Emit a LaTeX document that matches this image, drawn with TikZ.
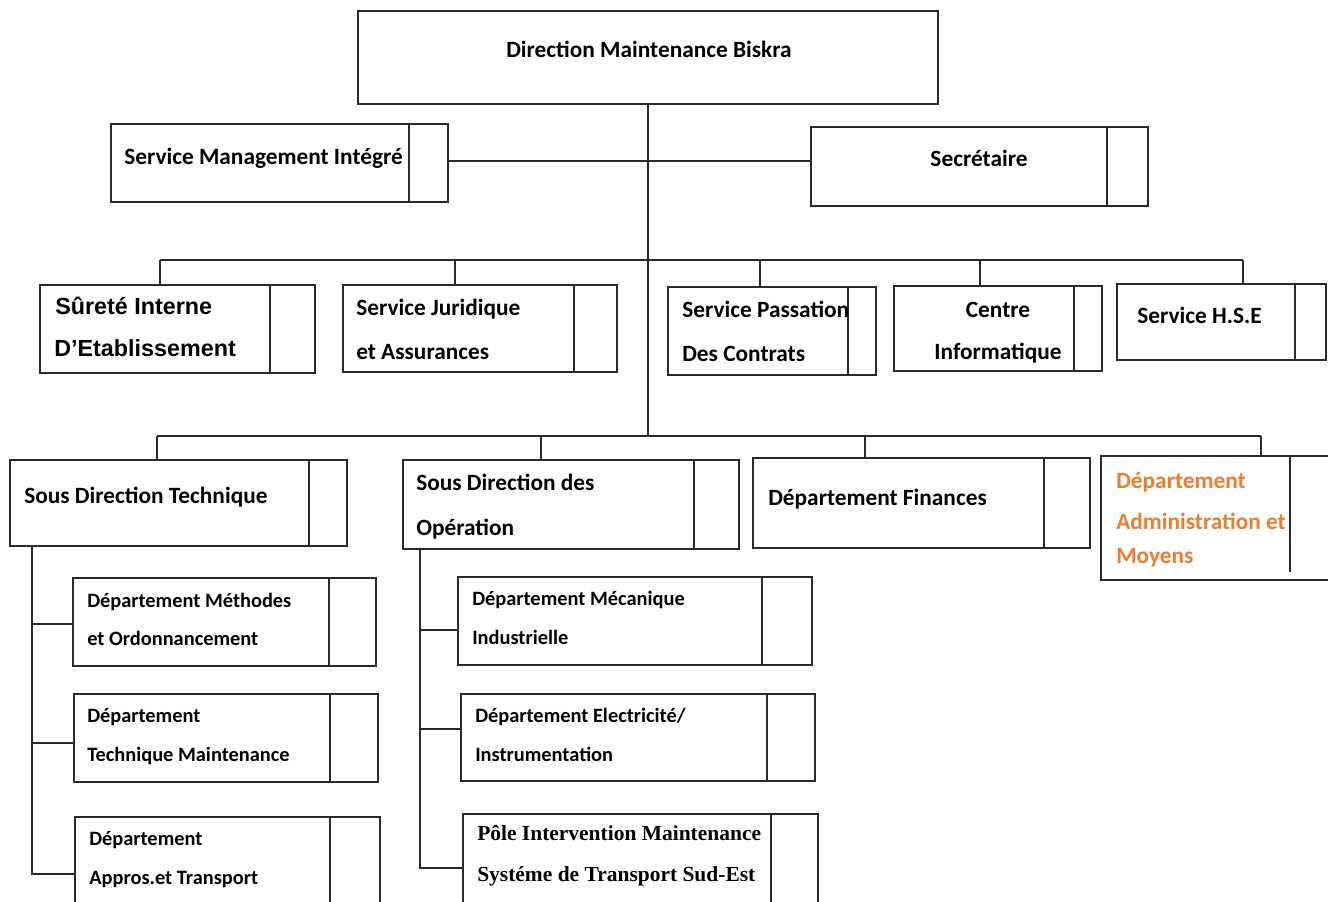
\documentclass[tikz,border=0pt]{standalone}
\usepackage{fontspec}
\setmainfont{Carlito}
\newfontfamily\arialfont{Liberation Sans}
\newfontfamily\cambriafont{Liberation Serif}
\usetikzlibrary{fit}
\definecolor{linec}{HTML}{2B2B2B}
\definecolor{orangetxt}{HTML}{ED7D31}

% box with a narrow column on its right: name, x1, y1, x2, y2, divider x
\newcommand\orgbox[6]{%
  \node[box, fit={(#2,#3) (#4,#5)}] (#1) {};
  \draw[divline] (#1.north -| #6,0) -- (#1.south -| #6,0);
}

\begin{document}
\begin{tikzpicture}[x=0.75pt,y=-0.75pt,
  box/.style={draw=linec, line width=1.3pt, inner sep=0pt, outer sep=0pt},
  divline/.style={draw=linec, line width=1.1pt},
  conn/.style={draw=linec, line width=1.1pt},
  txt/.style={inner sep=0pt, anchor=mid west, yshift=-3.5pt},
  big/.style={txt, font=\bfseries\fontsize{17.5}{21}\selectfont},
  small/.style={txt, font=\bfseries\fontsize{15.3}{18}\selectfont},
  serifsmall/.style={txt, font=\cambriafont\bfseries\fontsize{16.1}{19}\selectfont},
  arialbig/.style={txt, font=\arialfont\bfseries\fontsize{17.5}{21}\selectfont},
]
\useasboundingbox (0,0) rectangle (1328,902);
\fill[white] (0,0) rectangle (1328,902);

% ---- top level ----
\node[box, fit={(358,11) (938,104)}] (dir) {};
\node[big, anchor=mid] (t-dir) at (649,50) {Direction Maintenance Biskra};

\orgbox{smi}{111}{124}{448}{202}{409}
\node[big] (t-smi) at (124,157) {Service Management Intégré};

\orgbox{sec}{811}{127}{1148}{206}{1107}
\node[big, anchor=mid] (t-sec) at (979,159) {Secrétaire};

% ---- services ----
\orgbox{sure}{40}{285}{315}{373}{270}
\node[arialbig] (t-sure1) at (55,307) {Sûreté Interne};
\node[arialbig] (t-sure2) at (54,349) {D’Etablissement};

\orgbox{jur}{343}{285}{617}{372}{574}
\node[big] (t-jur1) at (356,308) {Service Juridique};
\node[big] (t-jur2) at (356,352) {et Assurances};

\orgbox{pas}{668}{287}{876}{375}{848}
\node[big] (t-pas1) at (682,310) {Service Passation};
\node[big] (t-pas2) at (682,354) {Des Contrats};

\orgbox{ci}{894}{286}{1102}{371}{1074}
\node[big, anchor=mid] (t-ci1) at (998,310) {Centre};
\node[big, anchor=mid] (t-ci2) at (998,352) {Informatique};

\orgbox{hse}{1117}{284}{1326}{360}{1295}
\node[big] (t-hse) at (1137,316) {Service H.S.E};

% ---- sub-directions and departments ----
\orgbox{sdt}{10}{460}{347}{546}{309}
\node[big] (t-sdt) at (24,496) {Sous Direction Technique};

\orgbox{sdo}{403}{460}{739}{549}{694}
\node[big] (t-sdo1) at (416,483) {Sous Direction des};
\node[big] (t-sdo2) at (416,528) {Opération};

\orgbox{fin}{753}{458}{1090}{548}{1044}
\node[big] (t-fin) at (768,498) {Département Finances};

\node[box, fit={(1101,456) (1345,580)}] (adm) {};
\draw[divline] (adm.north -| 1290,0) -- (1290,572);
\node[big, text=orangetxt] (t-adm1) at (1116,481) {Département};
\node[big, text=orangetxt] (t-adm2) at (1116,522) {Administration et};
\node[big, text=orangetxt] (t-adm3) at (1116,556) {Moyens};

% ---- technical departments ----
\orgbox{meth}{73}{578}{376}{666}{329}
\node[small] (t-meth1) at (87,600) {Département Méthodes};
\node[small] (t-meth2) at (87,638) {et Ordonnancement};

\orgbox{tech}{74}{694}{378}{782}{330}
\node[small] (t-tech1) at (87,715) {Département};
\node[small] (t-tech2) at (87,754) {Technique Maintenance};

\orgbox{appr}{75}{817}{380}{940}{330}
\node[small] (t-appr1) at (89,838) {Département};
\node[small] (t-appr2) at (89,877) {Appros.et Transport};

% ---- operation departments ----
\orgbox{meca}{458}{577}{812}{665}{762}
\node[small] (t-meca1) at (472,598) {Département Mécanique};
\node[small] (t-meca2) at (472,637) {Industrielle};

\orgbox{elec}{461}{694}{815}{781}{767}
\node[small] (t-elec1) at (475,715) {Département Electricité/};
\node[small] (t-elec2) at (475,754) {Instrumentation};

\orgbox{pole}{463}{814}{818}{940}{771}
\node[serifsmall] (t-pole1) at (477,833) {Pôle Intervention Maintenance};
\node[serifsmall] (t-pole2) at (477,874) {Systéme de Transport Sud-Est};

% ---- connectors ----
\coordinate (trunk) at (dir.south |- 0,436);
\draw[conn] (dir.south) -- (trunk);
\draw[conn] (smi.east |- 0,161) -- (sec.west |- 0,161);

% first bus
\coordinate (d-sure) at (160,260);
\coordinate (d-jur) at (455,260);
\coordinate (d-pas) at (760,260);
\coordinate (d-ci) at (980,260);
\coordinate (d-hse) at (1243,260);
\draw[conn] (d-sure) -- (d-hse);
\draw[conn] (d-sure) -- (d-sure |- sure.north);
\draw[conn] (d-jur) -- (d-jur |- jur.north);
\draw[conn] (d-pas) -- (d-pas |- pas.north);
\draw[conn] (d-ci) -- (d-ci |- ci.north);
\draw[conn] (d-hse) -- (d-hse |- hse.north);

% second bus
\coordinate (d-sdt) at (157,436);
\coordinate (d-sdo) at (541,436);
\coordinate (d-fin) at (865,436);
\coordinate (d-adm) at (1261,436);
\draw[conn] (d-sdt) -- (d-adm);
\draw[conn] (d-sdt) -- (d-sdt |- sdt.north);
\draw[conn] (d-sdo) -- (d-sdo |- sdo.north);
\draw[conn] (d-fin) -- (d-fin |- fin.north);
\draw[conn] (d-adm) -- (d-adm |- adm.north);

% technical branch
\coordinate (l-top) at (sdt.south -| 32,0);
\coordinate (l-1) at (32,624);
\coordinate (l-2) at (32,743);
\coordinate (l-3) at (32,874);
\draw[conn] (l-top) -- (l-3) -- (l-3 -| appr.west);
\draw[conn] (l-1) -- (l-1 -| meth.west);
\draw[conn] (l-2) -- (l-2 -| tech.west);

% operation branch
\coordinate (m-top) at (sdo.south -| 420,0);
\coordinate (m-1) at (420,630);
\coordinate (m-2) at (420,729);
\coordinate (m-3) at (420,868);
\draw[conn] (m-top) -- (m-3) -- (m-3 -| pole.west);
\draw[conn] (m-1) -- (m-1 -| meca.west);
\draw[conn] (m-2) -- (m-2 -| elec.west);
\end{tikzpicture}
\end{document}
